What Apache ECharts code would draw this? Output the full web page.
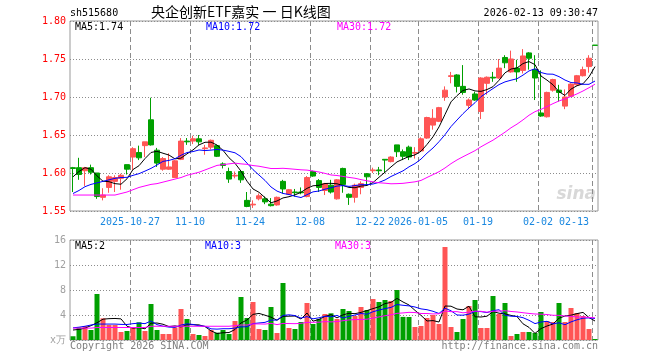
<!DOCTYPE html>
<html><head><meta charset="utf-8">
<script src="https://cdn.jsdelivr.net/npm/echarts@6/dist/echarts.min.js"></script>
<style>html,body{margin:0;padding:0;background:#fff}#c{width:660px;height:360px}</style>
</head><body><div id="c"></div>
<script>
// ---- data ----
const dates = [
 '2025-10-13','2025-10-14','2025-10-15','2025-10-16','2025-10-17','2025-10-20','2025-10-21','2025-10-22','2025-10-23','2025-10-24',
 '2025-10-27','2025-10-28','2025-10-29','2025-10-30','2025-10-31','2025-11-03','2025-11-04','2025-11-05','2025-11-06','2025-11-07',
 '2025-11-10','2025-11-11','2025-11-12','2025-11-13','2025-11-14','2025-11-17','2025-11-18','2025-11-19','2025-11-20','2025-11-21',
 '2025-11-24','2025-11-25','2025-11-26','2025-11-27','2025-11-28','2025-12-01','2025-12-02','2025-12-03','2025-12-04','2025-12-05',
 '2025-12-08','2025-12-09','2025-12-10','2025-12-11','2025-12-12','2025-12-15','2025-12-16','2025-12-17','2025-12-18','2025-12-19',
 '2025-12-22','2025-12-23','2025-12-24','2025-12-25','2025-12-26','2025-12-29','2025-12-30','2025-12-31','2026-01-05','2026-01-06',
 '2026-01-07','2026-01-08','2026-01-09','2026-01-12','2026-01-13','2026-01-14','2026-01-15','2026-01-16','2026-01-19','2026-01-20',
 '2026-01-21','2026-01-22','2026-01-23','2026-01-26','2026-01-27','2026-01-28','2026-01-29','2026-01-30','2026-02-02','2026-02-03',
 '2026-02-04','2026-02-05','2026-02-06','2026-02-09','2026-02-10','2026-02-11','2026-02-12','2026-02-13'];
const tickDates  = ['2025-10-27','2025-11-10','2025-11-24','2025-12-08','2025-12-22','2026-01-05','2026-01-19','2026-02-02','2026-02-13'];
const tickLabels = ['2025-10-27','11-10','11-24','12-08','12-22','2026-01-05','01-19','02-02','02-13'];
const openP = [1.607,1.607,1.603,1.607,1.600,1.568,1.581,1.589,1.593,1.611,
 1.621,1.627,1.636,1.670,1.630,1.605,1.605,1.594,1.618,1.642,
 1.642,1.645,1.632,1.634,1.636,1.612,1.602,1.596,1.602,1.564,
 1.558,1.566,1.566,1.559,1.558,1.589,1.572,1.575,1.575,1.569,
 1.602,1.590,1.577,1.584,1.566,1.606,1.572,1.568,1.581,1.599,
 1.603,1.604,1.618,1.615,1.637,1.628,1.634,1.626,1.629,1.646,
 1.663,1.668,1.700,1.727,1.729,1.714,1.689,1.704,1.681,1.718,
 1.726,1.725,1.752,1.733,1.738,1.735,1.758,1.736,1.679,1.674,
 1.709,1.709,1.688,1.701,1.716,1.728,1.740,1.7682];
const closeP = [1.606,1.598,1.607,1.601,1.569,1.571,1.595,1.594,1.597,1.605,
 1.632,1.620,1.641,1.637,1.613,1.619,1.608,1.616,1.642,1.641,
 1.645,1.641,1.633,1.643,1.622,1.610,1.592,1.597,1.591,1.556,
 1.559,1.570,1.562,1.557,1.568,1.579,1.578,1.574,1.574,1.594,
 1.596,1.581,1.586,1.575,1.591,1.585,1.568,1.584,1.586,1.595,
 1.604,1.603,1.617,1.621,1.628,1.622,1.621,1.627,1.645,1.673,
 1.672,1.686,1.709,1.728,1.714,1.706,1.696,1.696,1.725,1.726,
 1.725,1.738,1.745,1.750,1.733,1.754,1.751,1.725,1.675,1.706,
 1.723,1.706,1.700,1.717,1.728,1.736,1.751,1.768];
const lowP = [1.575,1.591,1.583,1.598,1.566,1.564,1.574,1.575,1.578,1.598,
 1.604,1.617,1.621,1.636,1.608,1.603,1.604,1.594,1.617,1.637,
 1.638,1.637,1.624,1.631,1.621,1.606,1.587,1.593,1.587,1.555,
 1.554,1.564,1.559,1.556,1.557,1.573,1.571,1.569,1.572,1.568,
 1.595,1.575,1.571,1.573,1.565,1.574,1.558,1.561,1.572,1.584,
 1.600,1.597,1.600,1.614,1.621,1.617,1.617,1.619,1.628,1.645,
 1.657,1.667,1.695,1.718,1.706,1.703,1.684,1.695,1.671,1.703,
 1.720,1.724,1.738,1.732,1.720,1.731,1.736,1.696,1.674,1.673,
 1.707,1.694,1.684,1.700,1.715,1.727,1.732,1.768];
const highP = [1.608,1.620,1.608,1.611,1.600,1.580,1.597,1.597,1.599,1.611,
 1.634,1.636,1.641,1.699,1.633,1.621,1.626,1.617,1.646,1.646,
 1.649,1.650,1.637,1.644,1.637,1.614,1.607,1.602,1.602,1.575,
 1.564,1.573,1.569,1.567,1.569,1.591,1.579,1.579,1.581,1.596,
 1.603,1.592,1.587,1.591,1.592,1.607,1.573,1.586,1.589,1.600,
 1.607,1.608,1.618,1.622,1.637,1.631,1.636,1.634,1.647,1.674,
 1.684,1.687,1.714,1.733,1.730,1.742,1.698,1.707,1.726,1.727,
 1.733,1.750,1.755,1.761,1.749,1.763,1.759,1.755,1.735,1.707,
 1.724,1.716,1.710,1.718,1.729,1.740,1.755,1.7682];
const volume = [0.6,2.0,2.24,1.6,7.36,3.47,2.4,2.4,1.28,1.44,
 1.97,2.83,1.44,5.76,1.6,0.96,0.96,2.0,4.96,3.36,
 0.96,0.8,0.64,1.6,1.17,1.6,0.96,3.04,6.88,3.52,
 6.08,1.76,1.6,5.28,1.12,9.12,1.92,1.76,2.88,5.92,
 2.56,3.36,4.16,4.27,3.36,4.96,4.64,3.84,5.28,4.8,
 6.56,6.08,6.4,6.24,8.0,3.7,3.68,2.08,2.24,3.52,
 4.0,2.56,14.88,2.08,1.28,3.36,5.44,6.4,1.92,1.92,
 7.04,4.16,5.92,0.64,0.96,1.28,1.28,1.12,4.48,3.04,
 2.88,5.92,2.88,5.12,4.32,3.84,1.76,0.16];
// moving-average values before a full window exists
const ma5Lead  = [1.595,1.602,1.607,1.605];
const ma10Lead = [1.573,1.577,1.582,1.585,1.587,1.589,1.591,1.593,1.594];
const ma30Lead = [1.571,1.571,1.571,1.571,1.571,1.571,1.571,1.571,1.573,1.575,
 1.578,1.581,1.583,1.585,1.586,1.588,1.590,1.592,1.594,1.597,
 1.599,1.601,1.604,1.607,1.610,1.611,1.612,1.613,1.612];
const vma5Lead  = [1.6,1.7,1.9,2.3];
const vma10Lead = [1.95,2.05,2.2,2.4,2.55,2.55,2.55,2.55,2.5];
const vma30Lead = [1.9,1.9,1.9,1.9,2.0,2.0,2.0,2.0,2.0,2.0,
 2.0,2.0,2.0,2.2,2.2,2.2,2.2,2.2,2.2,2.2,
 2.2,2.2,2.2,2.2,2.2,2.2,2.2,2.3,2.4];
const priceTicks = [1.55,1.80,0.05];
const volTicks = [0,16,4];
const headLeft = 'sh515680';
const headTitle = '央企创新ETF嘉实 一 日K线图';
const headTime = '2026-02-13 09:30:47';
const priceLegend = ['MA5:1.74','MA10:1.72','MA30:1.72'];
const volLegend = ['MA5:2','MA10:3','MA30:3'];

// ---- build ----
function ma(vals, n, lead) {
  return vals.map((v, i) => {
    if (i < n - 1) return lead[i];
    let s = 0; for (let k = i - n + 1; k <= i; k++) s += vals[k];
    return +(s / n).toFixed(4);
  });
}
const kData = dates.map((d, i) => [openP[i], closeP[i], lowP[i], highP[i]]);
const RED = '#ff5555', GREEN = '#00a000';
const volData = volume.map((v, i) => ({
  value: v, itemStyle: { color: closeP[i] >= openP[i] ? RED : GREEN }
}));
const tickIdx = tickDates.map(d => dates.indexOf(d));
const showTick = (i) => tickIdx.indexOf(i) >= 0;
const MONO = 'DejaVu Sans Mono';
const lineS = (name, data, color, xi, yi) => ({
  name, type: 'line', data, xAxisIndex: xi, yAxisIndex: yi, symbol: 'none', silent: true,
  lineStyle: { width: 1, color }, z: 5
});
const catAxis = (gi, labels) => ({
  type: 'category', gridIndex: gi, data: dates, boundaryGap: true,
  axisLine: { show: false }, axisTick: { show: false },
  axisLabel: labels ? {
    show: true, interval: (i) => showTick(i), color: '#1a88e0', fontFamily: MONO, fontSize: 10,
    margin: 6, padding: [0, 6, 0, 0], alignMaxLabel: 'right',
    formatter: (v) => { const k = tickDates.indexOf(v); return k >= 0 ? tickLabels[k] : ''; }
  } : { show: false },
  splitLine: { show: false }
});
const baseGraphic = [
  { type: 'text', left: 70, top: 8, style: { text: headLeft, fill: '#000', font: '10px "DejaVu Sans Mono"' } },
  { type: 'text', left: 151, top: 5, style: { text: headTitle, fill: '#000', font: '14px "Noto Sans CJK SC"' } },
  { type: 'text', right: 62, top: 8, style: { text: headTime, fill: '#000', font: '10px "DejaVu Sans Mono"' } },
  { type: 'text', left: 75, top: 22, z: 10, style: { text: priceLegend[0], fill: '#000', font: '10px "DejaVu Sans Mono"' } },
  { type: 'text', left: 206, top: 22, z: 10, style: { text: priceLegend[1], fill: '#0000ff', font: '10px "DejaVu Sans Mono"' } },
  { type: 'text', left: 337, top: 22, z: 10, style: { text: priceLegend[2], fill: '#ff00ff', font: '10px "DejaVu Sans Mono"' } },
  { type: 'text', left: 75, top: 241, z: 10, style: { text: volLegend[0], fill: '#000', font: '10px "DejaVu Sans Mono"' } },
  { type: 'text', left: 205, top: 241, z: 10, style: { text: volLegend[1], fill: '#0000ff', font: '10px "DejaVu Sans Mono"' } },
  { type: 'text', left: 335, top: 241, z: 10, style: { text: volLegend[2], fill: '#ff00ff', font: '10px "DejaVu Sans Mono"' } },
  { type: 'text', left: 70, top: 341, style: { text: 'Copyright 2026 SINA.COM', fill: '#808080', font: '10px "DejaVu Sans Mono"' } },
  { type: 'text', right: 62, top: 341, style: { text: 'http://finance.sina.com.cn', fill: '#808080', font: '10px "DejaVu Sans Mono"' } },
  { type: 'text', right: 64, top: 186, z: 1, style: { text: 'sina', fill: '#d8d8d8', font: 'italic bold 17px "DejaVu Sans"' } }
];
const option = {
  animation: false,
  backgroundColor: '#fff',
  grid: [
    { left: 70, right: 62, top: 21, height: 190, show: true, borderColor: '#999999', borderWidth: 1, backgroundColor: 'transparent' },
    { left: 70, right: 62, top: 240, height: 100, show: true, borderColor: '#999999', borderWidth: 1, backgroundColor: 'transparent' }
  ],
  xAxis: [catAxis(0, true), catAxis(1, false)],
  yAxis: [
    { type: 'value', gridIndex: 0, min: priceTicks[0], max: priceTicks[1], interval: priceTicks[2], scale: true,
      axisLine: { show: false }, axisTick: { show: false },
      axisLabel: { color: '#ff0000', fontFamily: MONO, fontSize: 10, margin: 4, formatter: v => v.toFixed(2) },
      splitLine: { show: true, lineStyle: { color: '#8c8c8c', type: [1, 2] } } },
    { type: 'value', gridIndex: 1, min: volTicks[0], max: volTicks[1], interval: volTicks[2],
      axisLine: { show: false }, axisTick: { show: false },
      axisLabel: { color: '#a0a0a0', fontFamily: MONO, fontSize: 10, margin: 4, formatter: v => v === 0 ? 'x万' : String(v) },
      splitLine: { show: true, lineStyle: { color: '#8c8c8c', type: [1, 2] } } }
  ],
  series: [
    { type: 'candlestick', data: kData, xAxisIndex: 0, yAxisIndex: 0, barWidth: 5, silent: true, z: 3,
      itemStyle: { color: RED, color0: GREEN, borderColor: RED, borderColor0: GREEN, borderWidth: 1 } },
    lineS('MA5', ma(closeP, 5, ma5Lead), '#000000', 0, 0),
    lineS('MA10', ma(closeP, 10, ma10Lead), '#0000ff', 0, 0),
    lineS('MA30', ma(closeP, 30, ma30Lead), '#ff00ff', 0, 0),
    { type: 'bar', data: volData, xAxisIndex: 1, yAxisIndex: 1, barWidth: 5, silent: true, z: 3 },
    lineS('VMA5', ma(volume, 5, vma5Lead), '#000000', 1, 1),
    lineS('VMA10', ma(volume, 10, vma10Lead), '#0000ff', 1, 1),
    lineS('VMA30', ma(volume, 30, vma30Lead), '#ff00ff', 1, 1)
  ],
  graphic: baseGraphic
};
const chart = echarts.init(document.getElementById('c'), null, { renderer: 'canvas' });
chart.setOption(option);

// vertical dashed guide lines at the left edge of each labelled trading day,
// positioned through the chart's own axis scales
try {
  const guides = [];
  [[0, priceTicks[0], priceTicks[1]], [1, volTicks[0], volTicks[1]]].forEach(([gi, lo, hi]) => {
    const c0 = chart.convertToPixel({ xAxisIndex: gi }, 0);
    const c1 = chart.convertToPixel({ xAxisIndex: gi }, 1);
    const band = c1 - c0;
    const yTop = chart.convertToPixel({ yAxisIndex: gi }, hi);
    const yBot = chart.convertToPixel({ yAxisIndex: gi }, lo);
    tickIdx.forEach(i => {
      const x = Math.round(chart.convertToPixel({ xAxisIndex: gi }, i) - band / 2) + 0.5;
      guides.push({ type: 'line', z: 2, silent: true,
        shape: { x1: x, y1: yTop, x2: x, y2: yBot },
        style: { stroke: '#8c8c8c', lineWidth: 1, lineDash: [5, 3] } });
    });
  });
  chart.setOption({ graphic: { elements: baseGraphic.concat(guides) } });
} catch (e) {
  chart.setOption({ graphic: { elements: baseGraphic.concat([{ type: 'text', left: 200, top: 100, z: 99,
    style: { text: 'ERR ' + e.message, fill: '#f00', font: '12px sans-serif' } }]) } });
}
</script></body></html>
